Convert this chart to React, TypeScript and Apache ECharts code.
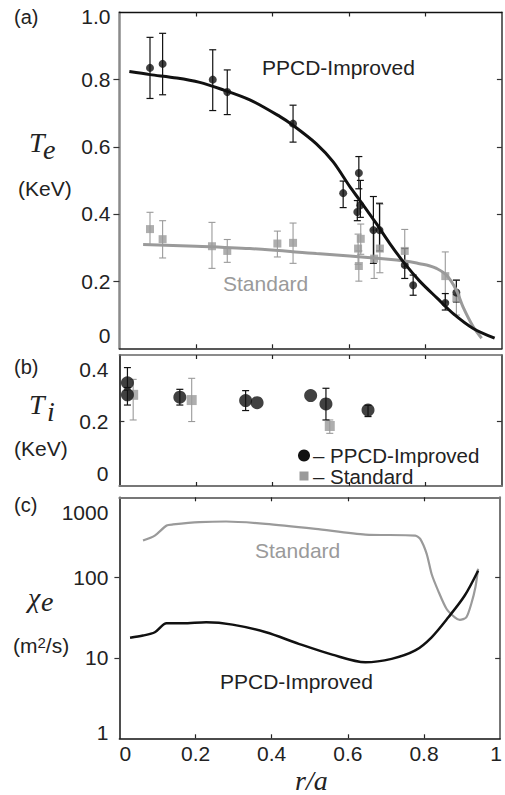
import React, { useEffect, useRef } from 'react';
import * as echarts from 'echarts';

const FONT = '"Liberation Sans", Arial, Helvetica, sans-serif';
const SERIF = '"Liberation Serif", "Times New Roman", serif';
const GRAY = '#9a9a9a';
const BLACK = '#111';

// shared x axis
const xTickValues = [0.2, 0.4, 0.6, 0.8];
const xLabelValues = [0, 0.2, 0.4, 0.6, 0.8, 1];
const xLabelTexts = ['0', '0.2', '0.4', '0.6', '0.8', '1'];

// y tick labels
const teTickValues = [0, 0.2, 0.4, 0.6, 0.8, 1.0];
const teTickLabels = ['0', '0.2', '0.4', '0.6', '0.8', '1.0'];
const tiTickValues = [0, 0.2, 0.4];
const tiTickLabels = ['0', '0.2', '0.4'];
const chiTickValues = [1, 10, 100, 1000];
const chiTickLabels = ['1', '10', '100', '1000'];

// (a) Te, PPCD-Improved points
const rTePpcd = [0.080, 0.113, 0.244, 0.282, 0.454, 0.585, 0.626, 0.622, 0.630, 0.664, 0.680, 0.746, 0.768, 0.852, 0.881];
const tePpcd = [0.835, 0.847, 0.800, 0.763, 0.669, 0.462, 0.522, 0.406, 0.426, 0.352, 0.352, 0.248, 0.188, 0.135, 0.166];
const tePpcdLo = [0.744, 0.755, 0.708, 0.696, 0.614, 0.419, 0.475, 0.380, 0.390, 0.253, 0.290, 0.208, 0.158, 0.114, 0.138];
const tePpcdHi = [0.926, 0.938, 0.889, 0.829, 0.724, 0.498, 0.571, 0.440, 0.500, 0.452, 0.432, 0.297, 0.218, 0.163, 0.203];

// (a) Te, Standard points
const rTeStd = [0.080, 0.113, 0.242, 0.282, 0.413, 0.454, 0.631, 0.624, 0.626, 0.666, 0.681, 0.746, 0.852, 0.881];
const teStd = [0.355, 0.325, 0.304, 0.290, 0.312, 0.314, 0.326, 0.297, 0.245, 0.267, 0.297, 0.290, 0.215, 0.150];
const teStdLo = [0.307, 0.269, 0.238, 0.256, 0.272, 0.253, 0.280, 0.250, 0.200, 0.208, 0.225, 0.243, 0.138, 0.099];
const teStdHi = [0.405, 0.380, 0.375, 0.324, 0.349, 0.373, 0.370, 0.340, 0.290, 0.352, 0.429, 0.354, 0.287, 0.203];

// (a) fitted profiles
const rTeFitPpcd = [0.026, 0.080, 0.150, 0.210, 0.263, 0.341, 0.420, 0.454, 0.515, 0.559, 0.602, 0.629, 0.672, 0.707, 0.746, 0.785, 0.830, 0.872, 0.925, 0.981];
const teFitPpcd = [0.824, 0.815, 0.805, 0.792, 0.773, 0.740, 0.690, 0.664, 0.609, 0.555, 0.482, 0.440, 0.371, 0.312, 0.252, 0.200, 0.150, 0.104, 0.059, 0.030];
const rTeFitStd = [0.062, 0.200, 0.341, 0.515, 0.689, 0.760, 0.785, 0.810, 0.829, 0.855, 0.881, 0.898, 0.925, 0.947];
const teFitStd = [0.309, 0.304, 0.297, 0.282, 0.267, 0.258, 0.252, 0.246, 0.238, 0.218, 0.173, 0.124, 0.064, 0.030];

// (b) Ti
const rTiPpcd = [0.021, 0.021, 0.158, 0.330, 0.360, 0.500, 0.540, 0.650];
const tiPpcd = [0.348, 0.302, 0.293, 0.280, 0.272, 0.299, 0.267, 0.244];
const tiPpcdLo = [0.330, 0.263, 0.263, 0.242, 0.272, 0.299, 0.206, 0.219];
const tiPpcdHi = [0.406, 0.320, 0.323, 0.318, 0.272, 0.299, 0.327, 0.262];
const rTiStd = [0.036, 0.189, 0.550];
const tiStd = [0.302, 0.282, 0.183];
const tiStdLo = [0.206, 0.200, 0.155];
const tiStdHi = [0.361, 0.365, 0.206];

// (c) chi_e
const rChiStd = [0.062, 0.093, 0.124, 0.141, 0.210, 0.280, 0.384, 0.515, 0.646, 0.777, 0.790, 0.807, 0.820, 0.837, 0.859, 0.881, 0.894, 0.911, 0.924, 0.935, 0.942];
const chiStd = [290, 334, 445, 459, 490, 500, 468, 405, 344, 334, 304, 198, 111, 69, 41, 32, 29.8, 32, 47, 76, 129];
const rChiPpcd = [0.028, 0.062, 0.093, 0.124, 0.167, 0.228, 0.297, 0.385, 0.471, 0.559, 0.646, 0.715, 0.777, 0.820, 0.864, 0.907, 0.942];
const chiPpcd = [17.8, 19.0, 20.9, 27.0, 27.0, 27.8, 26.0, 20.9, 15.0, 11.0, 8.83, 9.75, 12.4, 18.1, 32.1, 59.9, 122];

const zip = (a: number[], b: number[]) => a.map((v, i) => [v, b[i]]);
const zip3 = (a: number[], b: number[], c: number[]) =>
  a.map((v, i) => [v, b[i], c[i]]).filter((d) => d[2] - d[1] > 1e-9);

function errorSeries(data: number[][], color: string, xi: number, yi: number, width: number) {
  return {
    type: 'custom',
    xAxisIndex: xi,
    yAxisIndex: yi,
    data,
    encode: { x: 0, y: [1, 2] },
    silent: true,
    renderItem: (params: any, api: any) => {
      const x = api.value(0);
      const lo = api.value(1);
      const hi = api.value(2);
      const p1 = api.coord([x, hi]);
      const p2 = api.coord([x, lo]);
      const w = 3.5;
      const style = { stroke: color, lineWidth: width };
      return {
        type: 'group',
        children: [
          { type: 'line', shape: { x1: p1[0], y1: p1[1], x2: p2[0], y2: p2[1] }, style },
          { type: 'line', shape: { x1: p1[0] - w, y1: p1[1], x2: p1[0] + w, y2: p1[1] }, style },
          { type: 'line', shape: { x1: p2[0] - w, y1: p2[1], x2: p2[0] + w, y2: p2[1] }, style },
        ],
      };
    },
  };
}

function labelFmt(values: number[], labels: string[], first: string, last: string) {
  return (v: number) => {
    const i = values.findIndex((t) => Math.abs(t - v) < 1e-6 * Math.max(1, Math.abs(t)));
    const s = i >= 0 ? labels[i] : String(v);
    if (i === 0 && first) return `{${first}|${s}}`;
    if (i === values.length - 1 && last) return `{${last}|${s}}`;
    return s;
  };
}

const lblBase = { fontSize: 21, fontFamily: FONT, color: '#222' };

function line(color: string, width: number) {
  return { show: true, onZero: false, lineStyle: { color, width } };
}

export default function App() {
  const ref = useRef<HTMLDivElement>(null);
  useEffect(() => {
    if (!ref.current) return;
    const chart = echarts.init(ref.current, null, { renderer: 'svg' });
    const L = 119.4;
    const W = 382.5;
    const grids = [
      { left: L, width: W, top: 12.5, height: 335.8 },
      { left: L, width: W, top: 355, height: 131 },
      { left: L, width: W, top: 497.3, height: 241 },
    ];
    const borderColors = [
      { bottom: ['#222', 1.5], top: ['#111', 1.3], left: ['#8a8a8a', 2.5], right: ['#666', 2] },
      { bottom: ['#777', 2], top: ['#666', 1.6], left: ['#111', 1.6], right: ['#333', 1.6] },
      { bottom: ['#111', 1.6], top: ['#777', 2], left: ['#222', 1.6], right: ['#777', 2] },
    ];
    const xAxes: any[] = [];
    grids.forEach((g, gi) => {
      const bc = borderColors[gi];
      xAxes.push({
        type: 'value', gridIndex: gi, min: 0, max: 1, position: 'bottom',
        axisLine: line(bc.bottom[0] as string, bc.bottom[1] as number),
        axisTick: { show: true, inside: true, length: 4, customValues: xTickValues, lineStyle: { color: '#222', width: 1.2 } },
        axisLabel: gi === 2 ? {
          show: true, customValues: xLabelValues, margin: 5, ...lblBase,
          formatter: labelFmt(xLabelValues, xLabelTexts, 'first', 'last'),
          rich: { first: { ...lblBase, padding: [0, 0, 0, 12] }, last: { ...lblBase, padding: [0, 8, 0, 0] } },
        } : { show: false },
        splitLine: { show: false },
      });
      xAxes.push({
        type: 'value', gridIndex: gi, min: 0, max: 1, position: 'top',
        axisLine: line(bc.top[0] as string, bc.top[1] as number),
        axisTick: { show: true, inside: true, length: 4, customValues: xTickValues, lineStyle: { color: '#222', width: 1.2 } },
        axisLabel: { show: false },
        splitLine: { show: false },
      });
    });
    const yAxes: any[] = [
      {
        type: 'value', gridIndex: 0, min: 0, max: 1, position: 'left',
        axisLine: line('#8a8a8a', 2.5),
        axisTick: { show: true, inside: false, length: 6, customValues: [0.2, 0.4, 0.6, 0.8], lineStyle: { color: '#333', width: 1.2 } },
        axisLabel: {
          show: true, customValues: teTickValues, margin: 9, ...lblBase,
          formatter: labelFmt(teTickValues, teTickLabels, 'lo', 'hi'),
          rich: { lo: { ...lblBase, padding: [0, 0, 26, 0] }, hi: { ...lblBase, padding: [8, 0, 0, 0] } },
        },
        splitLine: { show: false },
      },
      {
        type: 'value', gridIndex: 0, min: 0, max: 1, position: 'right',
        axisLine: line('#666', 2),
        axisTick: { show: true, inside: true, length: 5, customValues: [0.2, 0.4, 0.6, 0.8], lineStyle: { color: '#333', width: 1.2 } },
        axisLabel: { show: false }, splitLine: { show: false },
      },
      {
        type: 'value', gridIndex: 1, min: -0.046, max: 0.454, position: 'left',
        axisLine: line('#111', 1.6),
        axisTick: { show: true, inside: true, length: 5, customValues: [0.2], lineStyle: { color: '#333', width: 1.2 } },
        axisLabel: {
          show: true, customValues: tiTickValues, margin: 11, ...lblBase,
          formatter: labelFmt(tiTickValues, tiTickLabels, '', ''),
        },
        splitLine: { show: false },
      },
      {
        type: 'value', gridIndex: 1, min: -0.046, max: 0.454, position: 'right',
        axisLine: line('#333', 1.6),
        axisTick: { show: true, inside: true, length: 5, customValues: [0.2], lineStyle: { color: '#333', width: 1.2 } },
        axisLabel: { show: false }, splitLine: { show: false },
      },
      {
        type: 'log', logBase: 10, gridIndex: 2, min: 1, max: 1000, position: 'left',
        axisLine: line('#222', 1.6),
        axisTick: { show: true, inside: false, length: 5, customValues: [10, 100], lineStyle: { color: '#333', width: 1.2 } },
        axisLabel: {
          show: true, customValues: chiTickValues, margin: 11, ...lblBase,
          formatter: labelFmt(chiTickValues, chiTickLabels, 'lo', 'hi'),
          rich: { lo: { ...lblBase, padding: [0, 0, 12, 0] }, hi: { ...lblBase, padding: [30, 0, 0, 0] } },
        },
        splitLine: { show: false }, minorTick: { show: false },
      },
      {
        type: 'log', logBase: 10, gridIndex: 2, min: 1, max: 1000, position: 'right',
        axisLine: line('#777', 2),
        axisTick: { show: true, inside: true, length: 5, customValues: [10, 100], lineStyle: { color: '#333', width: 1.2 } },
        axisLabel: { show: false }, splitLine: { show: false },
      },
    ];

    const series: any[] = [
      // (a)
      { type: 'line', xAxisIndex: 0, yAxisIndex: 0, data: zip(rTeFitStd, teFitStd), smooth: 0.3, symbol: 'none', lineStyle: { color: GRAY, width: 3 } },
      errorSeries(zip3(rTeStd, teStdLo, teStdHi), GRAY, 0, 0, 1.1),
      { type: 'scatter', xAxisIndex: 0, yAxisIndex: 0, data: zip(rTeStd, teStd), symbol: 'rect', symbolSize: 8, itemStyle: { color: GRAY } },
      errorSeries(zip3(rTePpcd, tePpcdLo, tePpcdHi), BLACK, 0, 0, 1.2),
      { type: 'line', xAxisIndex: 0, yAxisIndex: 0, data: zip(rTeFitPpcd, teFitPpcd), smooth: 0.3, symbol: 'none', lineStyle: { color: BLACK, width: 3 } },
      { type: 'scatter', xAxisIndex: 0, yAxisIndex: 0, data: zip(rTePpcd, tePpcd), symbol: 'circle', symbolSize: 8, itemStyle: { color: BLACK } },
      // (b)
      errorSeries(zip3(rTiStd, tiStdLo, tiStdHi), GRAY, 2, 2, 1.1),
      { type: 'scatter', xAxisIndex: 2, yAxisIndex: 2, data: zip(rTiStd, tiStd), symbol: 'rect', symbolSize: 10, itemStyle: { color: GRAY } },
      errorSeries(zip3(rTiPpcd, tiPpcdLo, tiPpcdHi), BLACK, 2, 2, 1.2),
      { type: 'scatter', xAxisIndex: 2, yAxisIndex: 2, data: zip(rTiPpcd, tiPpcd), symbol: 'circle', symbolSize: 13, itemStyle: { color: BLACK } },
      // (c)
      { type: 'line', xAxisIndex: 4, yAxisIndex: 4, data: zip(rChiStd, chiStd), smooth: 0.25, symbol: 'none', lineStyle: { color: GRAY, width: 2.2 } },
      { type: 'line', xAxisIndex: 4, yAxisIndex: 4, data: zip(rChiPpcd, chiPpcd), smooth: 0.3, symbol: 'none', lineStyle: { color: BLACK, width: 2.5 } },
    ];

    const txt = (text: string, x: number, y: number, opts: any = {}) => ({
      type: 'text', x, y, silent: true,
      style: { text, fontSize: 21, fontFamily: FONT, fill: '#222', align: 'left', verticalAlign: 'middle', ...opts },
    });
    const ital = { fontFamily: SERIF, fontStyle: 'italic', fontSize: 28, fill: '#222' };

    const graphic: any[] = [
      txt('(a)', 14, 17, { fontSize: 20 }),
      txt('T', 29, 142, ital),
      txt('e', 43, 149, ital),
      txt('(KeV)', 18, 188),
      txt('PPCD-Improved', 262, 67),
      txt('Standard', 223, 283, { fill: GRAY }),
      txt('(b)', 14, 367, { fontSize: 20 }),
      txt('T', 29, 404, ital),
      txt('i', 47, 411, ital),
      txt('(KeV)', 14, 448),
      { type: 'circle', shape: { cx: 304, cy: 455.5, r: 6 }, style: { fill: BLACK }, silent: true },
      txt('– PPCD-Improved', 313, 455.5, { fontSize: 20.5 }),
      { type: 'rect', shape: { x: 299.5, y: 471.5, width: 9, height: 9 }, style: { fill: GRAY }, silent: true },
      txt('– Standard', 313, 476.5, { fontSize: 20.5 }),
      txt('(c)', 14, 505, { fontSize: 20 }),
      txt('χ', 28, 597, ital),
      txt('e', 41, 601, ital),
      {
        type: 'text', x: 13, y: 645, silent: true,
        style: {
          text: '{a|(m}{b|2}{a|/s)}', verticalAlign: 'middle', align: 'left', fill: '#222',
          rich: { a: { fontSize: 21, fontFamily: FONT, fill: '#222' }, b: { fontSize: 15, fontFamily: FONT, fill: '#222', verticalAlign: 'top' } },
        },
      },
      txt('Standard', 255, 550, { fill: GRAY }),
      txt('PPCD-Improved', 220, 681),
      txt('r/a', 295, 780, { ...ital, fontSize: 28 }),
    ];

    chart.setOption({
      animation: false,
      backgroundColor: '#fff',
      grid: grids,
      xAxis: xAxes,
      yAxis: yAxes,
      series,
      graphic,
    });
    return () => chart.dispose();
  }, []);
  return <div ref={ref} style={{ position: 'absolute', left: 0, top: 0, width: 505, height: 795 }} />;
}
